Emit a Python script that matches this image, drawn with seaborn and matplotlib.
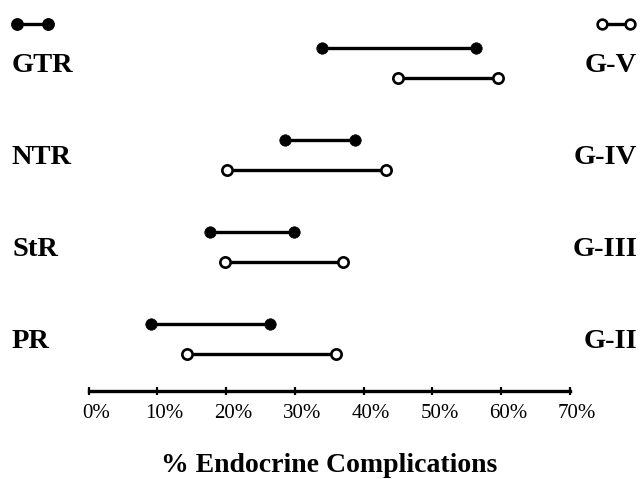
import matplotlib.pyplot as plt
import matplotlib.transforms as mtransforms
from matplotlib.lines import Line2D
import pandas as pd
import seaborn as sns

sns.set_theme(style="white")
plt.rcParams["font.family"] = ["Liberation Serif", "DejaVu Serif"]

# rows from top to bottom
resections = ["GTR", "NTR", "StR", "PR"]
grades = ["G-V", "G-IV", "G-III", "G-II"]

# % endocrine complications, filled = resection, open = grade
res_lo = [34.0, 28.6, 17.6, 9.0]
res_hi = [56.4, 38.8, 29.8, 26.3]
grd_lo = [45.0, 20.1, 19.8, 14.3]
grd_hi = [59.6, 43.2, 37.0, 35.9]

tick_vals = [0, 10, 20, 30, 40, 50, 60, 70]
tick_labels = [f"{v}%" for v in tick_vals]

OFF = 0.165

df = pd.DataFrame({
    "res": resections, "grade": grades,
    "res_lo": res_lo, "res_hi": res_hi,
    "grd_lo": grd_lo, "grd_hi": grd_hi,
})
df["pos"] = range(len(df))
df["res_y"] = df["pos"] - OFF
df["grd_y"] = df["pos"] + OFF

res_pts = pd.concat([
    df[["res_lo", "res_y"]].rename(columns={"res_lo": "value", "res_y": "y"}),
    df[["res_hi", "res_y"]].rename(columns={"res_hi": "value", "res_y": "y"}),
])
grd_pts = pd.concat([
    df[["grd_lo", "grd_y"]].rename(columns={"grd_lo": "value", "grd_y": "y"}),
    df[["grd_hi", "grd_y"]].rename(columns={"grd_hi": "value", "grd_y": "y"}),
])

fig = plt.figure(figsize=(6.4, 4.79), dpi=100)
ax = fig.add_axes([88.7 / 640, 88 / 479, (570 - 88.7) / 640, 391 / 479])

# connecting lines
ax.hlines(df["res_y"], df["res_lo"], df["res_hi"], color="black", lw=2.4, zorder=1)
ax.hlines(df["grd_y"], df["grd_lo"], df["grd_hi"], color="black", lw=2.4, zorder=1)

sns.scatterplot(data=res_pts, x="value", y="y", color="black", edgecolor="black",
                s=68, linewidth=0.5, legend=False, ax=ax, zorder=3)
sns.scatterplot(data=grd_pts, x="value", y="y", color="black", facecolor="white",
                edgecolor="black", s=55, linewidth=1.9, legend=False, ax=ax, zorder=3)

ax.set_xlim(0, 70)
ax.set_ylim(3.565, -0.685)
ax.set_yticks([])
ax.set_ylabel("")

for s in ["top", "left", "right"]:
    ax.spines[s].set_visible(False)
ax.spines["bottom"].set_linewidth(2.4)
ax.spines["bottom"].set_color("black")

ax.set_xticks(tick_vals)
ax.set_xticklabels(tick_labels)
ax.set_xticks([tick_vals[0], tick_vals[-1]], minor=True)
ax.tick_params(axis="x", which="major", bottom=True, direction="inout", length=6,
               width=1.6, color="black", labelsize=15, labelcolor="black", pad=6)
ax.tick_params(axis="x", which="minor", bottom=True, direction="inout", length=10,
               width=2.0, color="black")
shift = mtransforms.ScaledTranslation(7 / 100, 0, fig.dpi_scale_trans)
for lbl in ax.get_xticklabels():
    lbl.set_transform(lbl.get_transform() + shift)

ax.set_xlabel("% Endocrine Complications", fontsize=20, fontweight="bold",
              color="black", labelpad=22)

# row labels on both sides
trans = mtransforms.blended_transform_factory(fig.transFigure, ax.transData)
for _, r in df.iterrows():
    ax.text(12 / 640, r["pos"] + 0.03, r["res"], transform=trans, ha="left",
            va="center", fontsize=20.5, fontweight="bold", color="black")
    ax.text(637 / 640, r["pos"] + 0.03, r["grade"], transform=trans, ha="right",
            va="center", fontsize=20.5, fontweight="bold", color="black")

# key symbols in the top corners
fig.add_artist(Line2D([17 / 640, 48 / 640], [1 - 24 / 479] * 2, transform=fig.transFigure,
                      color="black", lw=2.4, marker="o", ms=8.2, mfc="black", mec="black"))
fig.add_artist(Line2D([602 / 640, 630 / 640], [1 - 24 / 479] * 2, transform=fig.transFigure,
                      color="black", lw=2.4, marker="o", ms=7.0, mfc="white", mec="black",
                      mew=1.9))

fig.savefig("out.png", dpi=100)
